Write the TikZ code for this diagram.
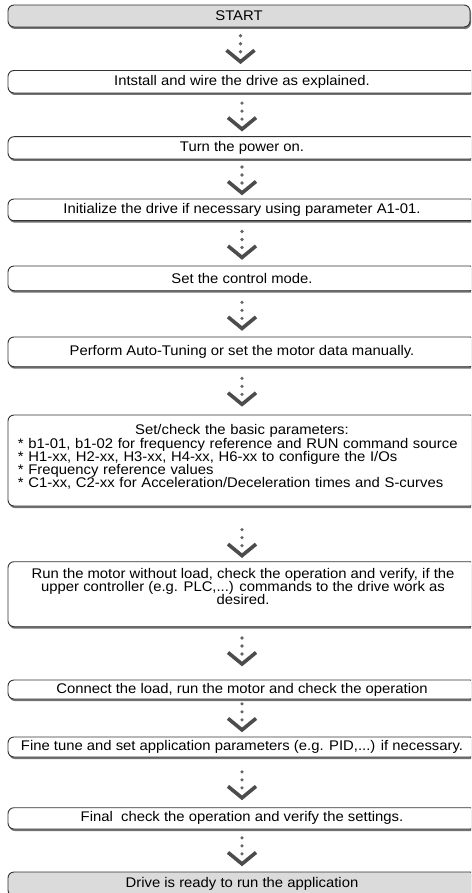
\documentclass[tikz,border=0pt]{standalone}
\usepackage{fontspec}
\setmainfont{Liberation Sans}[FakeStretch=1.06]
\usetikzlibrary{shadows}
\tikzset{
  boxfont/.style={font=\fontsize{14}{13.2}\selectfont},
  stepbox/.style={draw=black!80, line width=0.9pt, fill=white, rounded corners=6pt,
    minimum width=468pt, inner sep=0pt, boxfont,
    drop shadow={shadow xshift=1pt, shadow yshift=-2pt, fill=black!55, opacity=1}},
  termbox/.style={stepbox, fill=black!14, minimum width=462pt},
  boxtext/.style={inner sep=0pt, boxfont},
  flowarrow/.pic={
    \fill[black!60] (0,-13) circle (1.8pt) (0,-5) circle (1.8pt) (0,3) circle (1.8pt);
    \draw[black!70, line width=3.6pt, line join=miter] (-14,1.5) -- (0,13) -- (14,1.5);
  }
}
\begin{document}
\begin{tikzpicture}[x=1pt,y=-1pt]
\useasboundingbox (0,0) rectangle (471,893);
\clip (0,0) rectangle (471,893);
\node[termbox, minimum height=22pt] (b1) at (239,16) {START};
\node[stepbox, minimum height=22.5pt] (b2) at (242,81.75) {Intstall and wire the drive as explained.};
\node[stepbox, minimum height=22.3pt] (b3) at (242,147.85) {Turn the power on.};
\node[stepbox, minimum height=21.7pt] (b4) at (242,209.85) {Initialize the drive if necessary using parameter A1-01.};
\node[stepbox, minimum height=24.7pt] (b5) at (242,278.35) {Set the control mode.};
\node[stepbox, minimum height=29.7pt] (b6) at (242,351.85) {Perform Auto-Tuning or set the motor data manually.};
\node[stepbox, minimum height=91pt] (b7) at (242,460.5) {};
\node[boxtext, anchor=north, text width=448pt, align=left] (t7) at (242,424.5)
  {\makebox[\hsize][c]{Set/check the basic parameters:}\\{}%
   * b1-01, b1-02 for frequency reference and RUN command source\\{}%
   * H1-xx, H2-xx, H3-xx, H4-xx, H6-xx to configure the I/Os\\{}%
   * Frequency reference values\\{}%
   * C1-xx, C2-xx for Acceleration/Deceleration times and S-curves};
\node[stepbox, minimum height=65pt] (b8) at (242,594.2) {};
\node[boxtext, anchor=north, align=center] (t8) at (243,568.2)
  {Run the motor without load, check the operation and verify, if the\\
   upper controller (e.g. PLC,...) commands to the drive work as\\
   desired.};
\node[stepbox, minimum height=19pt] (b9) at (242,689.5) {Connect the load, run the motor and check the operation};
\node[stepbox, minimum height=20pt] (b10) at (242,747) {Fine tune and set application parameters (e.g. PID,...) if necessary.};
\node[stepbox, minimum height=21.3pt] (b11) at (242,818.35) {Final\ \ check the operation and verify the settings.};
\node[termbox, minimum width=468pt, minimum height=24pt] (b12) at (242,884) {Drive is ready to run the application};

\path (b1.south) -- (b2.north) coordinate[pos=0.50] (m1);
\path (b2.south) -- (b3.north) coordinate[pos=0.53] (m2);
\path (b3.south) -- (b4.north) coordinate[pos=0.525] (m3);
\path (b4.south) -- (b5.north) coordinate[pos=0.525] (m4);
\path (b5.south) -- (b6.north) coordinate[pos=0.535] (m5);
\path (b6.south) -- (b7.north) coordinate[pos=0.51] (m6);
\path (b7.south) -- (b8.north) coordinate[pos=0.66] (m7);
\path (b8.south) -- (b9.north) coordinate[pos=0.455] (m8);
\path (b9.south) -- (b10.north) coordinate[pos=0.47] (m9);
\path (b10.south) -- (b11.north) coordinate[pos=0.55] (m10);
\path (b11.south) -- (b12.north) coordinate[pos=0.51] (m11);
\foreach \m in {m1,m2,m3,m4,m5,m6,m7,m8,m9,m10,m11} {\pic at (\m) {flowarrow};}
\end{tikzpicture}
\end{document}
